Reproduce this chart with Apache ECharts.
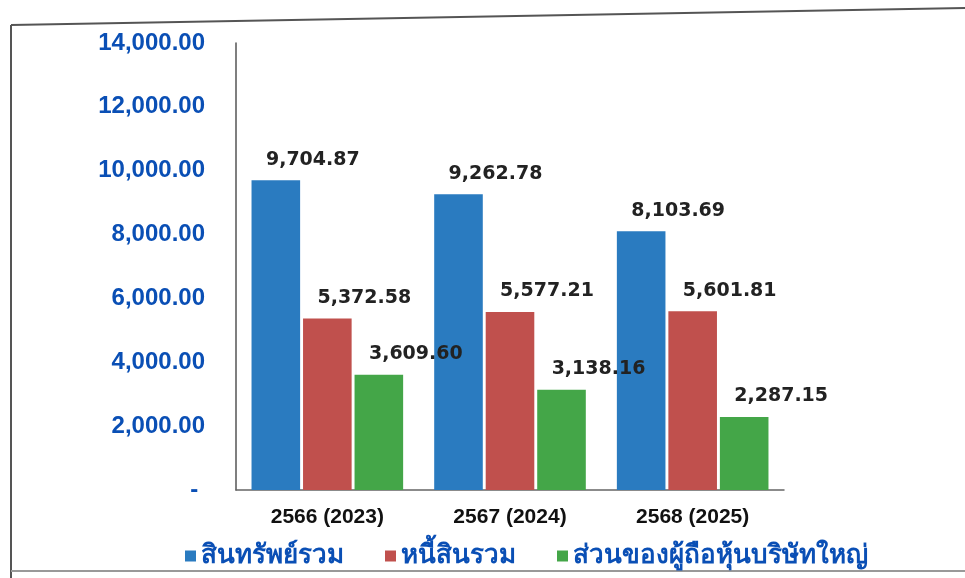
<!DOCTYPE html>
<html>
<head>
<meta charset="utf-8">
<script src="https://cdn.jsdelivr.net/npm/echarts@6/dist/echarts.min.js"></script>
<style>html,body{margin:0;padding:0;background:#fff}#c{width:965px;height:578px}</style>
</head>
<body>
<div id="c"></div>
<script>
const categories = ['2566 (2023)', '2567 (2024)', '2568 (2025)'];
const seriesNames = ['สินทรัพย์รวม', 'หนี้สินรวม', 'ส่วนของผู้ถือหุ้นบริษัทใหญ่'];
const totalAssets = [9704.87, 9262.78, 8103.69];
const totalLiabilities = [5372.58, 5577.21, 5601.81];
const parentEquity = [3609.60, 3138.16, 2287.15];
const yTicks = { min: 0, max: 14000, interval: 2000 };

const colors = ['#2a7bc0', '#c0504d', '#44a648'];
const fmt = v => v.toLocaleString('en-US', { minimumFractionDigits: 2, maximumFractionDigits: 2 });

const chart = echarts.init(document.getElementById('c'), null, { renderer: 'canvas' });
const mk = (name, data, i) => ({
  name, type: 'bar', data,
  itemStyle: { color: colors[i] },
  barGap: '6%', barCategoryGap: '17%',
  label: {
    show: true, position: 'top', offset: [37, -6],
    formatter: p => fmt(p.value),
    fontFamily: 'DejaVu Sans', fontWeight: 'bold', fontSize: 19, color: '#222'
  }
});
chart.setOption({
  animation: false,
  backgroundColor: '#fff',
  graphic: [
    { type: 'line', shape: { x1: 11, y1: 25, x2: 965, y2: 8 }, style: { stroke: '#555', lineWidth: 2 } },
    { type: 'line', shape: { x1: 11, y1: 25, x2: 11, y2: 578 }, style: { stroke: '#555', lineWidth: 2 } },
    { type: 'line', shape: { x1: 11, y1: 571, x2: 965, y2: 571 }, style: { stroke: '#999', lineWidth: 2 } }
  ],
  grid: { left: 236, right: 181, top: 43, bottom: 88 },
  legend: {
    data: seriesNames, left: 180, top: 538, icon: 'rect', itemWidth: 11, itemHeight: 11, itemGap: 41,
    textStyle: { color: '#0a4fb5', fontSize: 26, fontWeight: 'bold', fontFamily: 'Noto Sans, sans-serif' }
  },
  xAxis: {
    type: 'category', data: categories,
    axisLine: { lineStyle: { color: '#666', width: 1.5 } },
    axisTick: { show: false },
    axisLabel: { color: '#111', fontWeight: 'bold', fontSize: 21, fontFamily: 'Liberation Sans', margin: 17 }
  },
  yAxis: {
    type: 'value', min: yTicks.min, max: yTicks.max, interval: yTicks.interval,
    splitLine: { show: false },
    axisLine: { show: true, lineStyle: { color: '#555', width: 1.5 } },
    axisTick: { show: false },
    axisLabel: {
      color: '#0a4fb5', fontWeight: 'bold', fontSize: 24, fontFamily: 'Liberation Sans', margin: 31,
      formatter: v => v === 0 ? '- ' : fmt(v)
    }
  },
  series: [
    mk(seriesNames[0], totalAssets, 0),
    mk(seriesNames[1], totalLiabilities, 1),
    mk(seriesNames[2], parentEquity, 2)
  ]
});
</script>
</body>
</html>
